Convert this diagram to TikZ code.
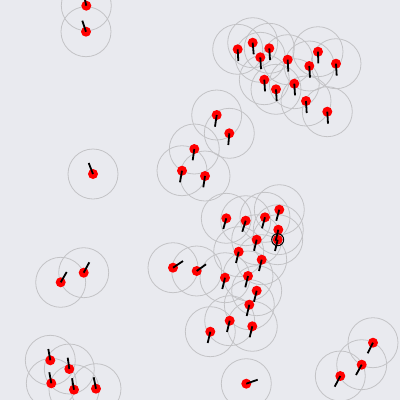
\documentclass[tikz,border=0pt]{standalone}
\definecolor{bgc}{RGB}{233,234,239}
\definecolor{rangec}{RGB}{195,195,198}
\tikzset{
  sense/.style={draw=rangec,line width=0.8pt},
  agentdot/.style={circle,fill=red,inner sep=0pt,minimum size=10pt},
  heading/.style={draw=black,line width=1.8pt},
  ringmark/.style={draw=black,line width=1pt}
}
\begin{document}
\begin{tikzpicture}[x=1pt,y=-1pt]
\fill[bgc] (0,0) rectangle (400,400);
\useasboundingbox (0,0) rectangle (400,400);
\clip (0,0) rectangle (400,400);
\def\agents{86.3/5.7/83.8/-5.3, 86/31.7/82.3/20.7, 93/174/88.7/163,
194.3/149/192.7/160.3, 182/170.7/180/182.3, 216.7/115/215/126.7,
229.3/133.3/228.3/145, 205/176/203.3/187.3, 237.7/49.3/238.3/61,
252.7/42.7/253.7/54.3, 269.3/48.3/270/60, 260.3/57.3/261/69,
287.7/59.7/288.3/71.7, 318/51.7/318.3/63.3, 309.3/66/310/77.7,
336/63.7/336.7/75.7, 264.3/79.7/265/91.3, 276/89.3/276.7/101,
294.3/83.7/295/95.3, 306/101/306.7/113, 327.3/111.7/328/123.7,
60.7/282.3/66.7/272, 83.7/272.7/89.3/262.3, 173/267.7/183/261,
196.7/271/206/264.3, 50.3/360.3/48.3/349, 69.3/369/67.7/357.7,
51.3/383.3/49.3/372.3, 74/389.7/72/378.3, 96/388.7/93.7/377.3,
226.3/218.3/223.3/229, 245.7/220.7/242.3/231.7, 265/217.3/262/228.3,
279.3/209.7/276.3/220.7, 278.3/229.7/275.7/240.7, 277.7/239.7/275/251,
256.7/239.7/254/250.7, 238.7/251.7/236/263, 261.7/259.7/259/271,
225/277.7/222.3/289, 248/276/245.3/287.3, 256.7/290.7/254/301.7,
249.3/304.7/246.7/316, 229.7/320.7/227/332, 252.3/326.3/249.7/337.3,
210.3/331.7/207.7/343, 246.3/383.7/257.7/379.7, 373/342.7/367.7/353.3,
361.7/364.7/356/375, 340.3/376/334.7/386.7}
% sensing ranges
\foreach \x/\y/\ex/\ey [count=\i] in \agents {
  \draw[sense] (\x,\y) circle[radius=25];
}
% agents
\foreach \x/\y/\ex/\ey [count=\i] in \agents {
  \node[agentdot] (a\i) at (\x,\y) {};
  \coordinate (h\i) at (\ex,\ey);
}
% highlighted agent
\draw[ringmark] (a36.center) circle[radius=6];
% headings
\foreach \x/\y/\ex/\ey [count=\i] in \agents {
  \draw[heading] (a\i.center) -- (h\i);
}
\end{tikzpicture}
\end{document}
